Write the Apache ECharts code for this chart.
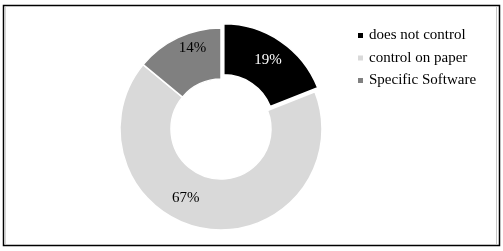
<!DOCTYPE html>
<html>
<head>
<meta charset="utf-8">
<script src="https://cdn.jsdelivr.net/npm/echarts@6/dist/echarts.min.js"></script>
<style>
  html, body { margin: 0; padding: 0; background: #fff; }
  #main { width: 503px; height: 251px; }
</style>
</head>
<body>
<div id="main"></div>
<script>
// chart data
var categories = ['does not control', 'control on paper', 'Specific Software'];
var values = [19, 67, 14];
var sliceColors = ['#000000', '#d9d9d9', '#808080'];

// label nudges so they sit where the original put them
var labelOffsets = [[4, -5], [-23, -8], [5, -10]];
var labelColors = ['#ffffff', '#000000', '#000000'];

var seriesData = categories.map(function (name, i) {
    return {
        name: name,
        value: values[i],
        selected: i === 0,
        itemStyle: { color: sliceColors[i] },
        label: { offset: labelOffsets[i], color: labelColors[i] }
    };
});

var option = {
    animation: false,
    textStyle: { fontFamily: 'Liberation Serif' },
    legend: {
        orient: 'vertical',
        left: 356,
        top: 28,
        padding: 0,
        icon: 'rect',
        itemWidth: 7,
        itemHeight: 7,
        itemGap: 7.5,
        selectedMode: false,
        data: categories,
        textStyle: {
            fontFamily: 'Liberation Serif',
            fontSize: 15,
            lineHeight: 15,
            color: '#000',
            padding: [0, 0, 0, 0]
        }
    },
    graphic: [
        {
            // outer frame
            type: 'rect',
            shape: { x: 3.5, y: 5.5, width: 496, height: 240 },
            style: { fill: 'none', stroke: '#000', lineWidth: 1.5 },
            silent: true
        },
        {
            type: 'line',
            shape: { x1: 5, y1: 7, x2: 5, y2: 244 },
            style: { stroke: '#c8c8c8', lineWidth: 1.5 },
            silent: true
        },
        {
            type: 'line',
            shape: { x1: 496.5, y1: 7, x2: 496.5, y2: 244 },
            style: { stroke: '#c8c8c8', lineWidth: 1 },
            silent: true
        }
    ],
    series: [
        {
            type: 'pie',
            center: [221, 129],
            radius: [50, 101],
            startAngle: 90,
            clockwise: true,
            selectedMode: 'single',
            selectedOffset: 5,
            avoidLabelOverlap: false,
            itemStyle: {
                borderColor: '#ffffff',
                borderWidth: 1.5
            },
            label: {
                show: true,
                position: 'inside',
                formatter: '{c}%',
                fontFamily: 'Liberation Serif',
                fontSize: 15
            },
            labelLine: { show: false },
            emphasis: { disabled: true },
            select: { itemStyle: { borderColor: '#ffffff', borderWidth: 1.5 } },
            data: seriesData
        }
    ]
};

var chart = echarts.init(document.getElementById('main'));
chart.setOption(option);
</script>
</body>
</html>
